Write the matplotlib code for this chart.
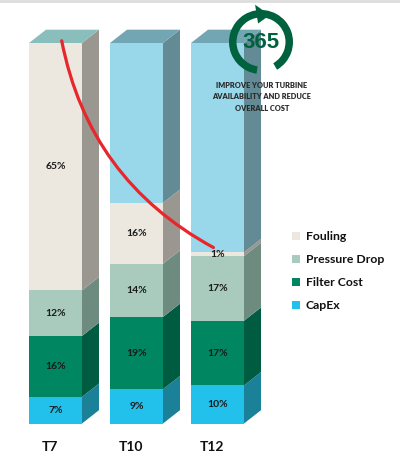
import numpy as np
import matplotlib
matplotlib.use("Agg")
import matplotlib.pyplot as plt
from matplotlib.patches import Polygon, Patch, Wedge, FancyArrowPatch

plt.rcParams["font.family"] = ["Lato", "DejaVu Sans"]

categories = ["T7", "T10", "T12"]
capex = [7, 9, 10]
filter_cost = [16, 19, 17]
pressure_drop = [12, 14, 17]
fouling = [65, 16, 1]

series_names = ["CapEx", "Filter Cost", "Pressure Drop", "Fouling"]
series_values = [capex, filter_cost, pressure_drop, fouling]
front_colors = ["#22C1EC", "#008661", "#A9CBBE", "#ECE8DF"]
side_colors = ["#1A8199", "#005C41", "#6E8B80", "#9A9790"]

rest_front = "#98D8EA"
rest_side = "#628B95"
top_colors = ["#8ABEBC", "#72A6B3", "#72A6B3"]

W, H = 400, 470
bar_w = 0.654
dx, dy = 0.21, 3.5

fig = plt.figure(figsize=(W / 100, H / 100), dpi=100)
ax = fig.add_axes([0, 0, 1, 1])
ax.set_xlim(-0.6852, 4.2531)
ax.set_ylim(-12.22, 111.30)
ax.axis("off")

x = np.arange(len(categories))
bottoms = np.zeros(len(categories))


def side_face(xr, y0, y1, color):
    pts = [(xr, y0), (xr + dx, y0 + dy), (xr + dx, y1 + dy), (xr, y1)]
    ax.add_patch(Polygon(pts, closed=True, facecolor=color, edgecolor="none", zorder=1))


for vals, fc, sc in zip(series_values, front_colors, side_colors):
    vals = np.array(vals, dtype=float)
    ax.bar(x, vals, bar_w, bottom=bottoms, color=fc, edgecolor="none", zorder=2)
    for i in range(len(x)):
        xr = x[i] + bar_w / 2
        side_face(xr, bottoms[i], bottoms[i] + vals[i], sc)
        ax.text(x[i], bottoms[i] + vals[i] / 2, f"{vals[i]:.0f}%", ha="center", va="center",
                fontsize=7.5, fontweight="bold", color="#1a1a1a", zorder=5)
    bottoms += vals

# remaining part of each column up to 100 %
rest = 100 - bottoms
ax.bar(x, rest, bar_w, bottom=bottoms, color=rest_front, edgecolor="none", zorder=2)
for i in range(len(x)):
    xl, xr = x[i] - bar_w / 2, x[i] + bar_w / 2
    if rest[i] > 0:
        side_face(xr, bottoms[i], 100, rest_side)
    top = [(xl, 100), (xl + dx, 100 + dy), (xr + dx, 100 + dy), (xr, 100)]
    ax.add_patch(Polygon(top, closed=True, facecolor=top_colors[i], edgecolor="none", zorder=1))
    ax.text(x[i] - 0.07, -6.3, categories[i], ha="center", va="center",
            fontsize=10, fontweight="bold", color="#111111")

# red trend curve from T7 top to the T12 fouling level
curve = FancyArrowPatch((x[0] + 0.07, 101.3), (x[2] - 0.02, bottoms[2] + 0.9),
                        connectionstyle="arc3,rad=0.24", arrowstyle="-",
                        color="#E8262B", lw=2.3, zorder=6)
ax.add_patch(curve)

handles = [Patch(facecolor=c, edgecolor="none") for c in front_colors[::-1]]
leg = ax.legend(handles, series_names[::-1], loc="upper left",
                bbox_to_anchor=(292 / W, 1 - 231 / H), bbox_transform=fig.transFigure,
                frameon=False, fontsize=8.8, handlelength=0.66, handleheight=0.66,
                handletextpad=0.45, labelspacing=0.98, borderpad=0, borderaxespad=0)
for t in leg.get_texts():
    t.set_fontweight("bold")
    t.set_color("#111111")

# logo overlay in pixel coordinates
lx = fig.add_axes([0, 0, 1, 1])
lx.set_xlim(0, W)
lx.set_ylim(H, 0)
lx.axis("off")
lx.patch.set_alpha(0)
lx.plot([0, W], [1, 1], color="#DDDDDD", lw=2)

green = "#00613F"
cx, cy, r_out, ring = 261, 42, 32, 7.5
lx.add_patch(Wedge((cx, cy), r_out, 98, 420, width=ring, facecolor=green, edgecolor="none"))
r_mid = r_out - ring / 2
a_base, a_tip = np.radians(99), np.radians(72)
head = [(cx + (r_mid - 9.5) * np.cos(a_base), cy - (r_mid - 9.5) * np.sin(a_base)),
        (cx + (r_mid + 9.5) * np.cos(a_base), cy - (r_mid + 9.5) * np.sin(a_base)),
        (cx + r_mid * np.cos(a_tip), cy - r_mid * np.sin(a_tip))]
lx.add_patch(Polygon(head, closed=True, facecolor=green, edgecolor="none"))
lx.text(cx, cy + 1, "365", ha="center", va="center", fontsize=16, fontweight="bold",
        color=green, family="Liberation Sans")
for k, line in enumerate(["IMPROVE YOUR TURBINE", "AVAILABILITY AND REDUCE", "OVERALL COST"]):
    lx.text(cx + 1, 85 + k * 11.7, line, ha="center", va="center", fontsize=5.3,
            fontweight="heavy", color="#2a2a2a")

fig.savefig("out.png", dpi=100)
